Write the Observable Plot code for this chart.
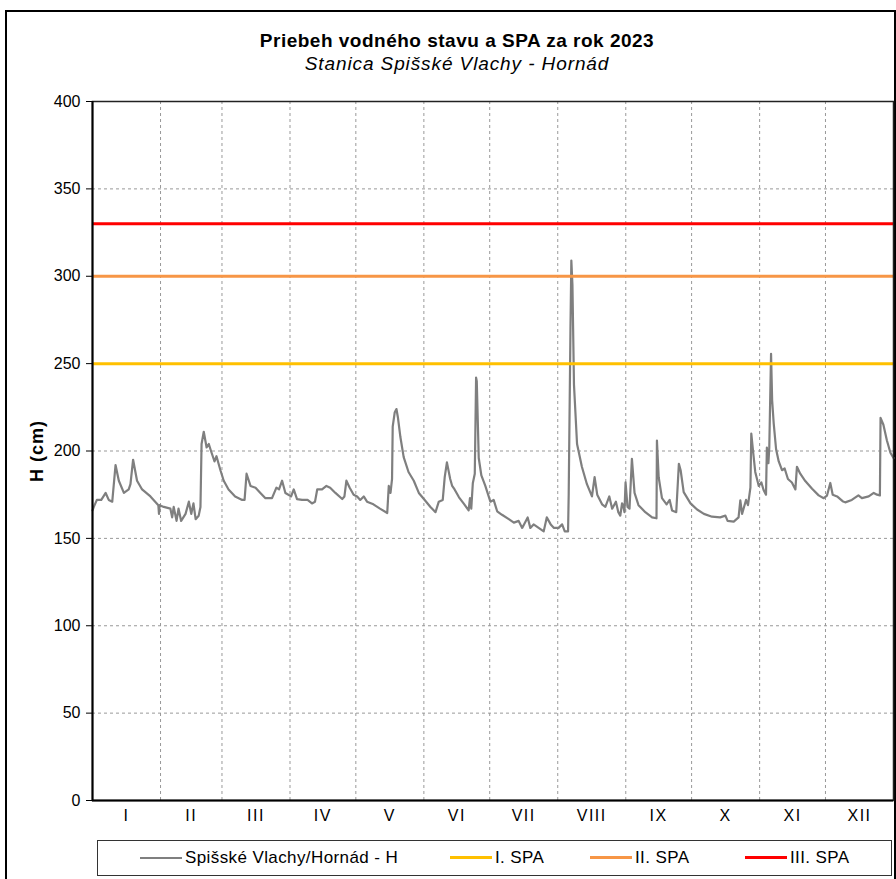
<!DOCTYPE html>
<html><head><meta charset="utf-8">
<script src="https://cdn.jsdelivr.net/npm/d3@7"></script>
<script src="https://cdn.jsdelivr.net/npm/@observablehq/plot@0.6"></script>
<style>
body{margin:0;background:#fff;font-family:"Liberation Sans",Arial,sans-serif;}
#wrap{position:relative;width:896px;height:879px;overflow:hidden;background:#fff;}
#frame{position:absolute;left:5px;top:10px;width:891px;height:900px;border:2px solid #000;box-sizing:border-box;}
#title{position:absolute;left:0;width:914px;top:30px;text-align:center;font-weight:bold;font-size:19px;letter-spacing:0.5px;color:#000;}
#subtitle{position:absolute;left:0;width:914px;top:53px;text-align:center;font-style:italic;font-size:19px;letter-spacing:0.9px;color:#000;}
#chart{position:absolute;left:0;top:0;}
#legend{position:absolute;left:97px;top:840px;width:795px;height:36px;border:1.5px solid #333;box-sizing:border-box;font-size:17px;letter-spacing:0.4px;}
.item{position:absolute;top:0;height:33px;display:flex;align-items:center;white-space:nowrap;}
.sw{display:inline-block;width:42px;height:0;margin-right:3px;}
g[aria-label="y-axis label"] text{font-weight:bold;font-size:18px;letter-spacing:1px;}
g[aria-label="x-axis tick label"] text{letter-spacing:1.5px;}
</style></head>
<body>
<div id="wrap">
<div id="frame"></div>
<div id="chart"></div>
<div id="title">Priebeh vodného stavu a SPA za rok 2023</div>
<div id="subtitle">Stanica Spišské Vlachy - Hornád</div>
<div id="legend"></div>
</div>
<script>
// Day of year (0 = 1 Jan 2023) and water level H (cm)
const days = [
  0, 0.6, 2, 4, 6, 7.4, 9, 10.5, 12, 14.3, 16.5, 17.3, 18.5, 20.3, 22.6, 26.4, 30,
  30.3, 30.6, 32.5, 35.5, 36.3, 37, 38.3, 39.2, 40.4, 42.4, 43.9, 45, 46, 47, 48.4, 49.2, 49.7, 50.7, 52, 53, 54, 55.6, 56.5, 58.3,
  59.8, 62, 65, 68.2, 69.3, 70.2, 72, 74.3, 76.5, 78.8, 81.8, 83.8, 85, 86.4, 87.9,
  90.5, 91.7, 93.2, 95.5, 98, 100, 101.4, 102.4, 104.6, 106.6, 108.3, 110.7, 113.8, 114.8, 115.7, 117.2, 119,
  120.6, 122, 123.6, 125.1, 128, 131, 134.3, 135, 135.8, 136.5, 136.8, 137.7, 138.5, 139.2, 140.3, 141.8, 144, 146.4, 148.7,
  151, 154, 156.3, 157.8, 159.6, 160.5, 161.5, 163, 163.9, 165, 167, 169.1, 171.4, 172, 172.6, 173.3, 174.2, 174.8, 175.1, 176, 177.2, 179,
  181.3, 182.8, 184.4, 186.6, 189.7, 192, 194.2, 195.8, 198.3, 199.5, 201, 203.3, 205.6, 207, 208.8, 210.3,
  212.4, 214, 215.2, 216.7, 217, 217.8, 218.2, 218.7, 219.4, 220.8, 223, 225.3, 227.6, 228.8, 230, 232.2, 233.7, 235.5, 236.8, 238.5, 239.6, 240.5, 241.3, 241.8, 242.4,
  242.9, 243.8, 244.7, 245.8, 247, 248.8, 251.9, 255, 257, 257.2, 258, 259.5, 261.6, 263, 264.1, 266, 267.2, 268, 269.4, 272.5,
  275.5, 278.6, 282.3, 286, 288.4, 289.4, 292.2, 294.4, 295.2, 296, 297.8, 298.7, 299.8, 300.2, 301, 302,
  303.6, 304.8, 305.8, 306.9, 307.3, 308, 308.4, 309.2, 309.7, 310.4, 311.5, 312.7, 314.2, 315.4, 316.9, 318.7, 320.3, 321, 322.5, 324.8, 327.9, 330.9,
  333.2, 334.7, 336.2, 337.3, 339.3, 341.8, 343, 346, 349, 350.6, 353.7, 356, 357.5, 358.8, 359.1, 360.4, 362, 363.6, 365
];
const levels = [
  166, 168, 172, 172, 176, 172, 171, 192, 183, 176, 178, 181, 195, 183, 178, 174, 169,
  164, 169, 168, 167, 162, 168, 160, 167, 160, 164, 171, 164, 170, 161, 163, 168, 204, 211, 202, 204, 200, 194, 197, 189,
  183, 178, 174, 172, 172, 187, 180, 179, 176, 173, 173, 179, 178, 183, 176,
  174, 178, 172.5, 172, 172, 170, 171, 178, 178, 180, 179, 176, 172.5, 174, 183, 179, 175,
  174, 172, 174, 171, 169.5, 167, 164.5, 180, 176, 184, 214, 222, 224, 219, 208, 196.5, 188, 183, 176,
  172.5, 168, 165, 171, 172, 185, 193.5, 184, 180, 178, 173.5, 170, 166, 173, 167, 181.5, 187, 242, 240, 196, 186, 180,
  171, 172, 165.5, 163.5, 161, 159, 160, 156, 162, 156, 158, 156, 154, 162, 158, 156,
  156, 158, 154, 154, 175.5, 270, 309, 295, 238, 204, 191, 181, 174, 185, 175, 169.5, 168, 174, 167, 171, 165, 163, 170, 169, 165,
  182, 168, 167, 195.5, 176, 169, 165, 162, 161.5, 206, 185, 173, 169.5, 172, 166, 165, 192.7, 189, 176.5, 170,
  166.5, 164, 162.4, 162, 163, 160, 159.6, 162, 171.7, 164, 172, 169, 179, 210, 200, 188,
  180, 182, 177.7, 175, 202, 193, 202, 255.6, 229, 216, 201, 194, 189, 190, 184, 182, 178, 191, 187, 182.8, 178.4, 174.6,
  173, 174.5, 181.7, 175, 174, 171.3, 170.6, 172, 174.6, 173, 174, 176, 175, 174.6, 219, 215, 206, 199, 196
];
const monthStarts = [0, 31, 59, 90, 120, 151, 181, 212, 243, 273, 304, 334, 365];
const monthLabels = ["I","II","III","IV","V","VI","VII","VIII","IX","X","XI","XII"];
const spaNames = ["I. SPA", "II. SPA", "III. SPA"];
const spaLevels = [250, 300, 330];
const spaColors = ["#FFC000", "#F79646", "#FF0000"];
const seriesName = "Spišské Vlachy/Hornád - H";
const seriesColor = "#7F7F7F";
const yTicks = [0, 50, 100, 150, 200, 250, 300, 350, 400];

const series = days.map((d, i) => ({day: d, h: levels[i]}));
const mids = monthLabels.map((m, i) => (monthStarts[i] + monthStarts[i + 1]) / 2);
const labelOf = new Map(mids.map((m, i) => [m, monthLabels[i]]));
const spa = spaLevels.map((v, i) => ({v, c: spaColors[i]}));

const chart = Plot.plot({
  width: 896, height: 830,
  marginLeft: 92, marginRight: 3, marginTop: 101, marginBottom: 30,
  style: {fontFamily: "'Liberation Sans', Arial, sans-serif", fontSize: "15px", color: "#000", background: "transparent"},
  x: {domain: [0, 365]},
  y: {domain: [0, 400]},
  marks: [
    Plot.ruleY(yTicks.slice(1, -1), {stroke: "#999", strokeDasharray: "3,3", strokeWidth: 1}),
    Plot.ruleX(monthStarts.slice(1, -1), {stroke: "#999", strokeDasharray: "3,3", strokeWidth: 1}),
    Plot.line(series, {x: "day", y: "h", stroke: seriesColor, strokeWidth: 2.2}),
    Plot.ruleY(spa, {y: "v", stroke: "c", strokeWidth: 3}),
    Plot.frame({stroke: "#222", strokeWidth: 1.5}),
    Plot.ruleX([0], {stroke: "#000", strokeWidth: 2}),
    Plot.ruleY([0], {stroke: "#000", strokeWidth: 2}),
    Plot.axisY(yTicks, {tickSize: 6, tickPadding: 6, fontSize: 16, label: "H (cm)", labelAnchor: "center", labelOffset: 62, labelArrow: "none"}),
    Plot.axisX(mids, {tickSize: 0, tickPadding: 9, fontSize: 16, tickFormat: d => labelOf.get(d), label: null})
  ]
});
document.getElementById("chart").appendChild(chart);

// legend
const legend = document.getElementById("legend");
const items = [{name: seriesName, color: seriesColor, w: 2, left: 42}]
  .concat(spaNames.map((n, i) => ({name: n, color: spaColors[i], w: 3, left: [352, 492, 647][i]})));
items.forEach(it => {
  const el = document.createElement("div");
  el.className = "item";
  el.style.left = it.left + "px";
  const sw = document.createElement("span");
  sw.className = "sw";
  sw.style.borderTop = it.w + "px solid " + it.color;
  el.appendChild(sw);
  el.appendChild(document.createTextNode(it.name));
  legend.appendChild(el);
});
</script>
</body></html>
